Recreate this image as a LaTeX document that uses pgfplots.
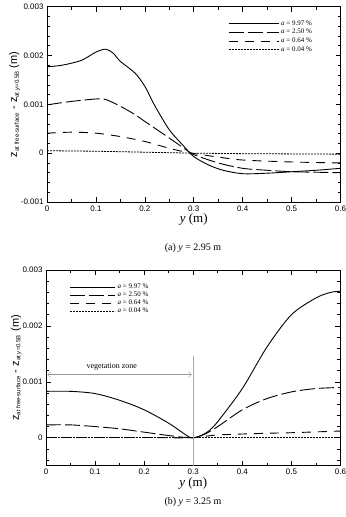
\documentclass[border=0pt]{standalone}
\usepackage{fontspec}
\setmainfont{Liberation Serif}
\setsansfont{Liberation Sans}
\usepackage{pgfplots}
\pgfplotsset{compat=1.18}
\usetikzlibrary{arrows.meta}

\pgfplotsset{
  myax/.style={
    scale only axis,
    scaled ticks=false,
    xmin=0, xmax=0.6,
    xtick={0,0.1,0.2,0.3,0.4,0.5,0.6},
    xticklabels={0,0.1,0.2,0.3,0.4,0.5,0.6},
    minor x tick num=1,
    tick label style={font=\sffamily\fontsize{8}{9}\selectfont},
    major tick length=5bp, minor tick length=3bp,
    tick style={black, line width=0.6pt},
    axis line style={line width=0.7pt},
    tick align=inside,
    xlabel={\fontsize{13}{14}\selectfont\textit{y} (m)},
    xlabel style={yshift=4bp},
    ylabel={\sffamily\fontsize{11}{12}\selectfont z\textsubscript{\fontsize{6}{6}\selectfont at free-surface} - z\textsubscript{\fontsize{6}{6}\selectfont at \textit{y}=0.5B} (m)},
    ylabel style={yshift=-6bp},
    legend cell align=left,
    legend image code/.code={\draw[##1] (0bp,0bp) -- (50bp,0bp);},
  },
  s1/.style={black, line width=0.9pt, smooth, tension=0.5},
  s2/.style={black, line width=0.9pt, smooth, tension=0.5, dash pattern=on 15bp off 4bp},
  s3/.style={black, line width=0.9pt, smooth, tension=0.5, dash pattern=on 9bp off 7bp},
  s4/.style={black, line width=0.8pt, dash pattern=on 2bp off 1bp},
}

\begin{document}
\begin{tikzpicture}
\useasboundingbox (0,0) rectangle (346bp,-517bp);

% ---------- (a) ----------
\begin{axis}[myax, name=top,
  at={(47bp,-202bp)}, anchor=south west,
  width=293.5bp, height=195.3bp,
  ymin=-0.001, ymax=0.003,
  ytick={-0.001,0,0.001,0.002,0.003},
  yticklabels={-0.001,0,0.001,0.002,0.003},
  minor y tick num=4,
  legend style={draw=none, fill=none, at={(0.92,0.95)}, anchor=north east,
    font=\fontsize{7}{8}\selectfont, row sep=-1.5pt},
]
\addplot[s1] coordinates {
(0,0.00177) (0.03,0.0018) (0.07,0.0019) (0.1,0.00207) (0.12,0.00213) (0.135,0.00205)
(0.15,0.00188) (0.18,0.00164) (0.2,0.00137) (0.22,0.00098) (0.25,0.00048) (0.28,0.00014)
(0.3,-0.00007) (0.33,-0.00024) (0.36,-0.00035) (0.4,-0.00042) (0.45,-0.00041)
(0.5,-0.00038) (0.55,-0.00035) (0.6,-0.00031)};
\addlegendentry{\textit{a} = 9.97 \%}
\addplot[s2] coordinates {
(0,0.00099) (0.05,0.00106) (0.1,0.00111) (0.12,0.0011) (0.15,0.00096) (0.18,0.00079)
(0.2,0.00065) (0.25,0.00031) (0.29,0.00003) (0.3,-0.00003) (0.35,-0.0002) (0.4,-0.00031)
(0.45,-0.00035) (0.5,-0.00038) (0.55,-0.00039) (0.6,-0.0004)};
\addlegendentry{\textit{a} = 2.50 \%}
\addplot[s3] coordinates {
(0,0.00041) (0.05,0.00043) (0.1,0.00041) (0.15,0.00034) (0.2,0.00024) (0.25,0.0001)
(0.29,0.00001) (0.35,-0.00008) (0.4,-0.00014) (0.5,-0.00018) (0.6,-0.0002)};
\addlegendentry{\textit{a} = 0.64 \%}
\addplot[s4] coordinates {
(0,0.00005) (0.1,0.00004) (0.2,0.00002) (0.3,0) (0.4,-0.00001) (0.6,-0.00002)};
\addlegendentry{\textit{a} = 0.04 \%}
\end{axis}
\node[font=\fontsize{10}{11}\selectfont] at (193bp,-248bp) {(a) \textit{y} = 2.95 m};

% ---------- (b) ----------
\begin{axis}[myax, name=bot,
  at={(46bp,-465.7bp)}, anchor=south west,
  width=294.5bp, height=195.7bp,
  ymin=-0.0005, ymax=0.003,
  ytick={0,0.001,0.002,0.003},
  yticklabels={0,0.001,0.002,0.003},
  minor ytick={-0.0004,-0.0002,0.0002,0.0004,0.0006,0.0008,0.0012,0.0014,0.0016,0.0018,0.0022,0.0024,0.0026,0.0028},
  legend style={draw=none, fill=none, at={(0.07,0.95)}, anchor=north west,
    font=\fontsize{7}{8}\selectfont, row sep=-2pt},
  legend image code/.code={\draw[#1] (0bp,0bp) -- (45bp,0bp);},
]
\addplot[s1] coordinates {
(0,0.00083) (0.05,0.00083) (0.1,0.00079) (0.15,0.00067) (0.2,0.0005) (0.25,0.00026)
(0.28,0.00008) (0.295,0) (0.31,0.00002) (0.33,0.00011) (0.35,0.00029) (0.4,0.00088)
(0.45,0.00162) (0.5,0.0022) (0.55,0.0025) (0.58,0.0026) (0.6,0.00262)};
\addlegendentry{\textit{a} = 9.97 \%}
\addplot[s2] coordinates {
(0,0.00023) (0.05,0.00023) (0.1,0.0002) (0.15,0.00016) (0.2,0.0001) (0.25,0.00004)
(0.295,0) (0.32,0.00005) (0.35,0.0002) (0.4,0.0005) (0.45,0.0007) (0.5,0.00082)
(0.55,0.00088) (0.6,0.0009)};
\addlegendentry{\textit{a} = 2.50 \%}
\addplot[s3] coordinates {
(0,0.000005) (0.1,0.000005) (0.2,0.000005) (0.295,0) (0.35,0.00005) (0.45,0.00008)
(0.5,0.00009) (0.6,0.00012)};
\addlegendentry{\textit{a} = 0.64 \%}
\addplot[s4] coordinates {(0,0) (0.3,0) (0.6,0)};
\addlegendentry{\textit{a} = 0.04 \%}
\addplot[gray!70, line width=0.5pt, forget plot] coordinates {(0.3,0.00146) (0.3,-0.0005)};
\addplot[gray!80, line width=0.4pt, {Straight Barb[length=3bp]}-{Straight Barb[length=3bp]}, forget plot]
  coordinates {(0.003,0.00113) (0.297,0.00113)};
\node[font=\fontsize{8}{9}\selectfont, anchor=south] at (axis cs:0.134,0.00115) {vegetation zone};
\end{axis}
\node[font=\fontsize{10}{11}\selectfont] at (193bp,-502bp) {(b) \textit{y} = 3.25 m};
\end{tikzpicture}
\end{document}
